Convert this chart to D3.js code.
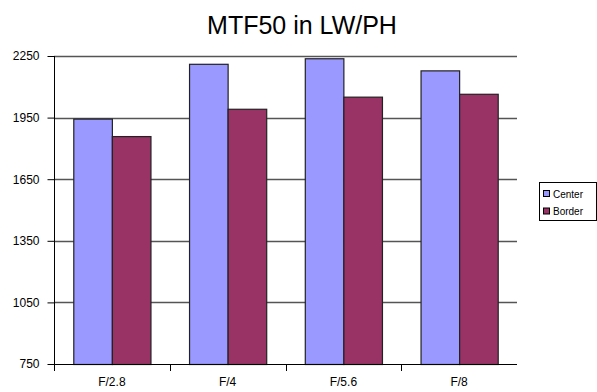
<!DOCTYPE html>
<html>
<head>
<meta charset="utf-8">
<script src="https://cdn.jsdelivr.net/npm/d3@7"></script>
<style>
  html, body { margin: 0; padding: 0; background: #fff; }
  svg { display: block; font-family: "Liberation Sans", Arial, sans-serif; }
</style>
</head>
<body>
<svg id="chart" width="597" height="392"></svg>
<script>
const categories = ["F/2.8", "F/4", "F/5.6", "F/8"];
const seriesNames = ["Center", "Border"];
const centerValues = [1945, 2212, 2239, 2180];
const borderValues = [1860, 1993, 2052, 2066];
const yTicks = [750, 1050, 1350, 1650, 1950, 2250];
const colors = ["#9999FF", "#993366"];

const svg = d3.select("#chart");
const pLeft = 54, pRight = 517, pTop = 56, pBottom = 364;

const x = d3.scaleBand().domain(categories).range([pLeft, pRight]).paddingInner(0).paddingOuter(0);
const inner = d3.scaleBand().domain(seriesNames).range([0, x.bandwidth()]).paddingInner(0).paddingOuter(0.5);
const y = d3.scaleLinear().domain([750, 2250]).range([pBottom, pTop]);

// Title
svg.append("text").attr("x", 302).attr("y", 34).attr("text-anchor", "middle")
  .attr("font-size", 25).attr("fill", "#000").text("MTF50 in LW/PH");

// Gridlines
svg.append("g").selectAll("line").data(yTicks.filter(d => d > 750)).join("line")
  .attr("x1", pLeft).attr("x2", pRight)
  .attr("y1", d => Math.round(y(d)) + 0.5).attr("y2", d => Math.round(y(d)) + 0.5)
  .attr("stroke", "#555").attr("stroke-width", 1.5);

// Bars
const data = categories.map((c, i) => ({ cat: c, vals: [centerValues[i], borderValues[i]] }));
const groups = svg.append("g").selectAll("g").data(data).join("g")
  .attr("transform", d => `translate(${x(d.cat)},0)`);
groups.selectAll("rect").data(d => d.vals.map((v, j) => ({ name: seriesNames[j], v, j }))).join("rect")
  .attr("x", d => inner(d.name) + 0.5)
  .attr("y", d => y(d.v) + 0.5)
  .attr("width", inner.bandwidth())
  .attr("height", d => pBottom - y(d.v))
  .attr("fill", d => colors[d.j])
  .attr("stroke", "#222").attr("stroke-width", 1.2);

// Y axis
const yAxis = d3.axisLeft(y).tickValues(yTicks).tickFormat(d3.format("d")).tickSizeInner(7).tickSizeOuter(0).tickPadding(8);
const gy = svg.append("g").attr("transform", `translate(${pLeft + 0.5},0)`).call(yAxis);
gy.select(".domain").attr("stroke", "#000").attr("d", `M0,${pTop}V${pBottom + 7}`);
gy.selectAll(".tick line").attr("stroke", "#000");
gy.selectAll(".tick text").attr("font-size", 12).attr("font-family", "Liberation Sans, Arial, sans-serif").attr("fill", "#000");

// X axis
const xAxis = d3.axisBottom(x).tickSize(0).tickPadding(13);
const gx = svg.append("g").attr("transform", `translate(0,${pBottom + 0.5})`).call(xAxis);
gx.select(".domain").attr("stroke", "#000").attr("d", `M${pLeft},0H${pRight}`);
gx.selectAll(".tick text").attr("font-size", 12).attr("font-family", "Liberation Sans, Arial, sans-serif").attr("fill", "#000");
// category boundary ticks
const boundaries = categories.map(c => x(c)).concat([pRight]);
svg.append("g").selectAll("line").data(boundaries.slice(1, 4)).join("line")
  .attr("x1", d => Math.round(d) + 0.5).attr("x2", d => Math.round(d) + 0.5)
  .attr("y1", pBottom).attr("y2", pBottom + 7).attr("stroke", "#000");

// Legend
const lg = svg.append("g");
lg.append("rect").attr("x", 539.5).attr("y", 182.5).attr("width", 57).attr("height", 38)
  .attr("fill", "#fff").attr("stroke", "#000");
seriesNames.forEach((n, i) => {
  const yy = 190 + i * 17.5;
  lg.append("rect").attr("x", 543.5).attr("y", yy + 0.5).attr("width", 6).attr("height", 6)
    .attr("fill", colors[i]).attr("stroke", "#000");
  lg.append("text").attr("x", 553).attr("y", yy + 7.5).attr("font-size", 10).attr("fill", "#000").text(n);
});
</script>
</body>
</html>
